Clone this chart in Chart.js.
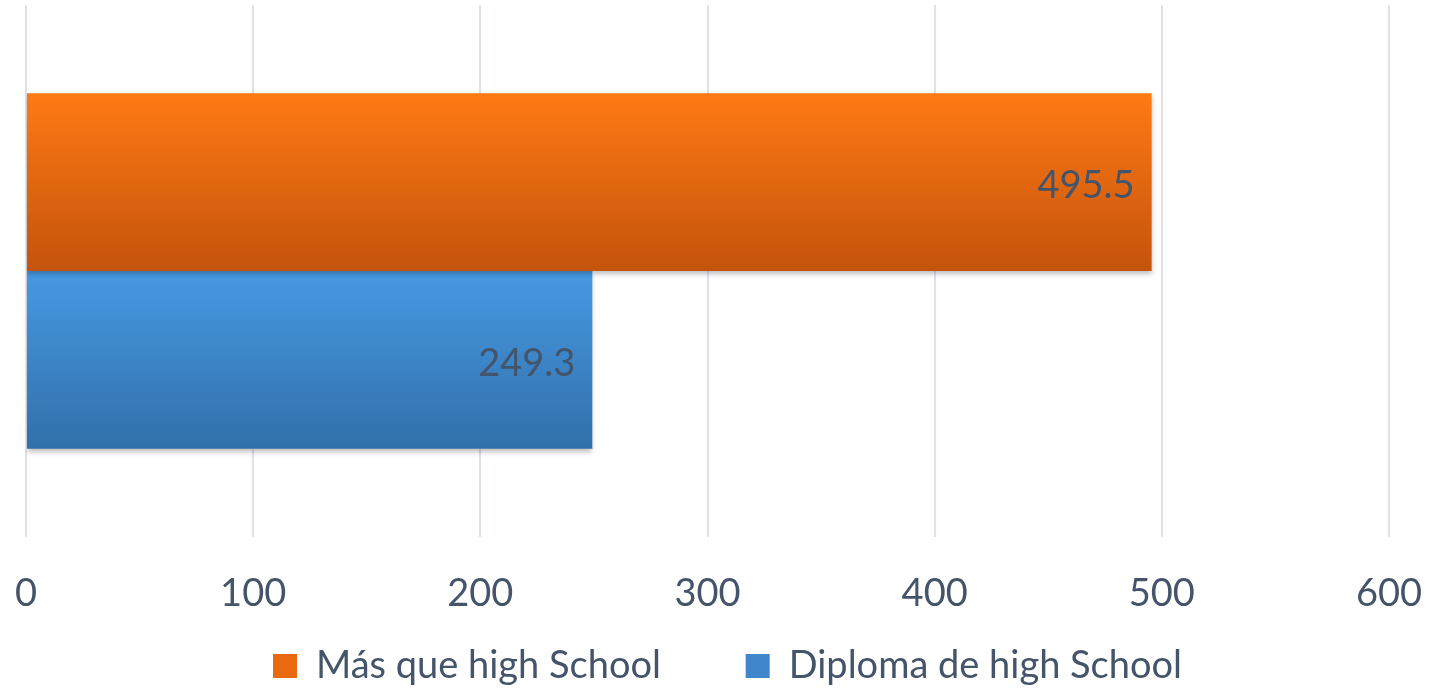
<!DOCTYPE html>
<html>
<head>
<meta charset="utf-8">
<script src="https://cdn.jsdelivr.net/npm/chart.js@4.4.1/dist/chart.umd.min.js"></script>
<style>
  html, body { margin: 0; padding: 0; background: #fff; }
  #wrap { width: 1430px; height: 688px; }
</style>
</head>
<body>
<div id="wrap"><canvas id="myChart" width="1430" height="688"></canvas></div>
<script>
var categories = [""];
var seriesNames = ["Más que high School", "Diploma de high School"];
var masQue = [495.5];
var diploma = [249.3];
var xTicks = [0, 100, 200, 300, 400, 500, 600];

var textColor = '#44546a';
var fontFamily = 'Lato, "Open Sans", sans-serif';

// vertical gradients per bar: [top, bottom]
var gradColors = [['#ff7a14', '#c4530c'], ['#4799e3', '#3170aa']];

var barStyle = {
  id: 'barStyle',
  beforeDatasetDraw: function(chart, args) {
    var ctx = chart.ctx;
    var meta = args.meta;
    var cols = gradColors[args.index];
    meta.data.forEach(function(el) {
      var top = el.y - el.height / 2;
      var g = ctx.createLinearGradient(0, top, 0, top + el.height);
      g.addColorStop(0, cols[0]);
      g.addColorStop(1, cols[1]);
      el.options.backgroundColor = g;
    });
    ctx.save();
    ctx.shadowColor = 'rgba(0,0,0,0.25)';
    ctx.shadowBlur = 5;
    ctx.shadowOffsetY = 3;
  },
  afterDatasetDraw: function(chart) {
    chart.ctx.restore();
  }
};

var valueLabels = {
  id: 'valueLabels',
  afterDatasetsDraw: function(chart) {
    var ctx = chart.ctx;
    ctx.save();
    ctx.font = '38px ' + fontFamily;
    ctx.fillStyle = textColor;
    ctx.textAlign = 'right';
    ctx.textBaseline = 'middle';
    chart.data.datasets.forEach(function(ds, i) {
      var meta = chart.getDatasetMeta(i);
      meta.data.forEach(function(el, j) {
        ctx.fillText(ds.data[j].toFixed(1), el.x - 17, el.y + 4);
      });
    });
    ctx.restore();
  }
};

// nudge the legend a little right and down, like the original
var legendShift = {
  id: 'legendShift',
  afterLayout: function(chart) {
    var lg = chart.legend;
    lg.left += 20; lg.right += 20;
    lg.top += 7; lg.bottom += 7;
  }
};

function renderChart() {
  var ctx = document.getElementById('myChart').getContext('2d');
  new Chart(ctx, {
    type: 'bar',
    data: {
      labels: categories,
      datasets: [{
        label: seriesNames[0],
        data: masQue,
        backgroundColor: '#e8690f'
      }, {
        label: seriesNames[1],
        data: diploma,
        backgroundColor: '#3f86cc'
      }]
    },
    options: {
      indexAxis: 'y',
      responsive: false,
      animation: false,
      layout: { padding: { left: 26, right: 41, top: 5, bottom: 0 } },
      datasets: { bar: { categoryPercentage: 0.668, barPercentage: 1.0 } },
      scales: {
        x: {
          min: 0, max: 600,
          afterBuildTicks: function(scale) {
            scale.ticks = xTicks.map(function(v) { return { value: v }; });
          },
          afterFit: function(scale) {
            scale.paddingLeft = 0;
            scale.paddingRight = 0;
            scale.height = 99;
          },
          grid: { color: '#dde1ea', lineWidth: 2, drawTicks: false },
          border: { display: false },
          ticks: {
            color: textColor,
            font: { size: 38, family: fontFamily },
            padding: 34
          }
        },
        y: { display: false }
      },
      plugins: {
        legend: {
          position: 'bottom',
          labels: {
            color: textColor,
            font: { size: 38, family: fontFamily },
            boxWidth: 24, boxHeight: 24,
            padding: 4,
            generateLabels: function(chart) {
              var items = Chart.defaults.plugins.legend.labels.generateLabels(chart);
              items[0].text = items[0].text + '\u2003\u2003\u2002\u2009';
              return items;
            }
          }
        },
        tooltip: { enabled: false }
      }
    },
    plugins: [barStyle, valueLabels, legendShift]
  });
}

window.onload = function() {
  renderChart();
};
</script>
</body>
</html>
